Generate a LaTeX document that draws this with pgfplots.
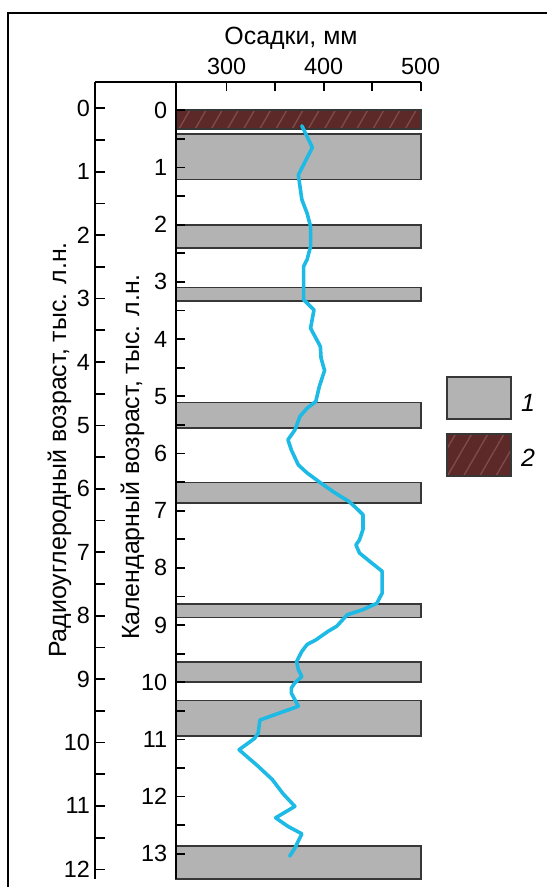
\documentclass[border=0pt]{standalone}
\usepackage{fontspec}
\setmainfont{Liberation Sans}
\usepackage{pgfplots}
\pgfplotsset{compat=1.18}
\usetikzlibrary{patterns.meta}
\definecolor{barfill}{RGB}{179,179,179}
\definecolor{barline}{RGB}{55,55,55}
\definecolor{brownc}{RGB}{92,40,40}
\definecolor{brownh}{RGB}{125,75,75}
\definecolor{curvec}{RGB}{30,186,230}
\newcommand{\gbar}[2]{\addplot[fill=barfill, draw=barline, line width=1.7bp] coordinates {(247.5,#1) (500,#1) (500,#2) (247.5,#2)} --cycle;}
\pgfplotsset{
  mystyle/.style={
    scale only axis, y dir=reverse, axis on top,
    tick label style={font=\fontsize{23.5}{28}\selectfont},
    /pgf/number format/assume math mode=true,
  },
  mylines/.style={
    axis line style={-, line width=1.7bp},
    tick align=inside,
    major tick length=9.5bp, minor tick length=9.5bp,
    every tick/.append style={line width=1.7bp, black},
  }
}
\begin{document}
\begin{tikzpicture}
\useasboundingbox (0bp,0bp) rectangle (547bp,887bp);
\draw[line width=1.7bp] (8.3bp,-5bp) -- (8.3bp,873.7bp) -- (560bp,873.7bp);
% radiocarbon axis
\begin{axis}[mystyle, at={(95bp,8bp)}, anchor=south west, width=325.7bp, height=797.3bp,
  xmin=0, xmax=1, ymin=-0.419, ymax=12.152,
  axis x line=top, axis y line=left, mylines,
  xtick=\empty,
  ytick={0,...,12}, minor ytick={0.5,1.5,...,11.5},
  yticklabel style={xshift=-1.5bp},
]
\addplot[draw=none] coordinates {(0.5,0)};
\end{axis}
% calendar axis
\begin{axis}[mystyle, at={(175.7bp,8bp)}, anchor=south west, width=245bp, height=797.3bp,
  xmin=247.5, xmax=500, ymin=-0.5, ymax=13.44,
  axis x line=top, axis y line=left, mylines,
  xtick={300,400,500}, minor xtick={350,450},
  ytick={0,...,13}, minor ytick={0.5,1.5,...,12.5},
  yticklabel style={xshift=-5bp}, xticklabel style={yshift=3.5bp},
  clip=false,
]
\addplot[fill=brownc, draw=none] coordinates {(247.5,0) (500,0) (500,0.33) (247.5,0.33)} --cycle;
\addplot[draw=none, pattern={Lines[angle=60,distance=14bp,line width=1.4bp]}, pattern color=brownh] coordinates {(247.5,0) (500,0) (500,0.33) (247.5,0.33)} --cycle;
\addplot[draw=barline, line width=1.7bp] coordinates {(247.5,0) (500,0) (500,0.33) (247.5,0.33)} --cycle;
\gbar{0.42}{1.21}
\gbar{2.0}{2.41}
\gbar{3.10}{3.33}
\gbar{5.11}{5.55}
\gbar{6.51}{6.87}
\gbar{8.63}{8.87}
\gbar{9.64}{9.99}
\gbar{10.32}{10.94}
\gbar{12.86}{13.44}
\addplot[curvec, line width=3.6bp, line join=round, line cap=round] coordinates {
(377.5,0.27) (388.3,0.65) (373.9,1.13) (377.5,1.56) (382.9,1.80) (386.5,2.03) (386.5,2.38) (382.9,2.61) (379.3,2.73) (379.3,3.31) (390,3.49) (386.5,3.81) (396.6,4.13) (397.3,4.33) (400.9,4.55) (395.5,4.83) (391.9,5.09) (382.9,5.21) (375.6,5.35) (370.3,5.59) (363.2,5.76) (366.7,5.94) (373.9,6.20) (382.9,6.34) (397.3,6.52) (411.7,6.69) (426.1,6.84) (433.3,6.95) (440.5,7.07) (440.5,7.33) (436.9,7.51) (433.3,7.60) (436.9,7.74) (447.7,7.89) (460.3,8.06) (460.3,8.44) (454.8,8.62) (440.5,8.73) (424.3,8.82) (413.5,9.02) (404.5,9.11) (391.9,9.26) (382.9,9.34) (377.5,9.46) (372.1,9.64) (373.9,9.78) (377.5,9.90) (370.3,10.01) (366.7,10.10) (366.7,10.19) (373.9,10.42) (354.1,10.54) (334.3,10.66) (332.5,10.89) (328.9,10.98) (312.8,11.18) (332.5,11.47) (347,11.70) (357.7,11.94) (370.3,12.17) (350.5,12.37) (363.2,12.52) (377.5,12.65) (370.3,12.90) (365,13.04)
};
\end{axis}
% titles
\node[anchor=base, font=\fontsize{25}{30}\selectfont] at (291bp,842bp) {Осадки, мм};
\node[anchor=base, rotate=90, font=\fontsize{25}{30}\selectfont] at (66bp,437bp) {Радиоуглеродный возраст, тыс. л.н.};
\node[anchor=base, rotate=90, font=\fontsize{25}{30}\selectfont] at (139bp,430bp) {Календарный возраст, тыс. л.н.};
% legend
\draw[fill=barfill, draw=barline, line width=1.7bp] (446.7bp,468.3bp) rectangle (510.7bp,510.3bp);
\fill[brownc] (446.7bp,411bp) rectangle (510.7bp,452.7bp);
\fill[pattern={Lines[angle=60,distance=14bp,line width=1.4bp]}, pattern color=brownh] (446.7bp,411bp) rectangle (510.7bp,452.7bp);
\draw[draw=barline, line width=1.7bp] (446.7bp,411bp) rectangle (510.7bp,452.7bp);
\node[font=\fontsize{25}{30}\selectfont\itshape] at (528bp,484bp) {1};
\node[font=\fontsize{25}{30}\selectfont\itshape] at (528bp,429bp) {2};
\end{tikzpicture}
\end{document}
